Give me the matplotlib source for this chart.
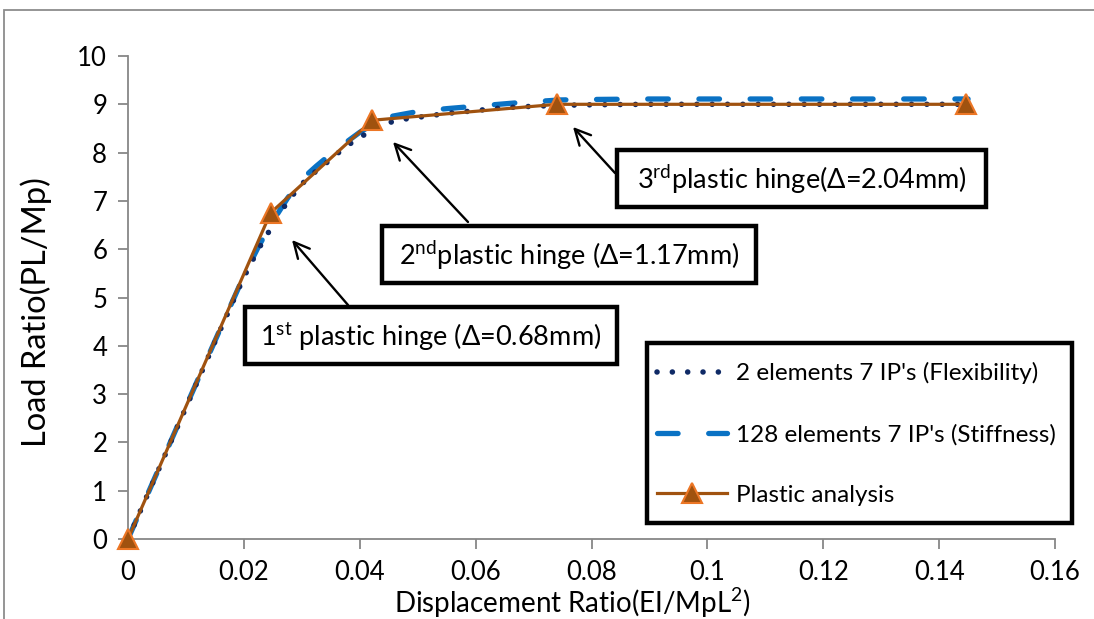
import matplotlib
matplotlib.use("Agg")
import matplotlib.pyplot as plt
from matplotlib.patches import Rectangle

plt.rcParams['font.family'] = ['Lato', 'DejaVu Sans']
plt.rcParams['mathtext.fontset'] = 'custom'
plt.rcParams['mathtext.rm'] = 'Lato'
plt.rcParams['mathtext.it'] = 'Lato'

# ---- data ----
flex_x = [0, 0.005, 0.010, 0.015, 0.020, 0.0225, 0.025, 0.0275, 0.030, 0.0325,
          0.035, 0.0375, 0.040, 0.0425, 0.045, 0.0475, 0.050, 0.055, 0.060,
          0.065, 0.070, 0.075, 0.080, 0.090, 0.100, 0.110, 0.120, 0.130, 0.140, 0.145]
flex_y = [0, 1.36, 2.72, 4.08, 5.42, 6.0, 6.5, 6.98, 7.35, 7.62,
          7.86, 8.12, 8.31, 8.5, 8.62, 8.69, 8.73, 8.81, 8.87,
          8.93, 8.96, 8.98, 8.99, 9.0, 9.0, 9.0, 9.0, 9.0, 9.0, 9.0]

stiff_x = [0, 0.005, 0.010, 0.015, 0.020, 0.0225, 0.025, 0.0275, 0.030, 0.0325,
           0.035, 0.0375, 0.040, 0.0425, 0.045, 0.050, 0.055, 0.060, 0.067,
           0.0745, 0.080, 0.090, 0.100, 0.110, 0.120, 0.130, 0.140, 0.145]
stiff_y = [0, 1.37, 2.74, 4.1, 5.45, 6.05, 6.58, 7.05, 7.45, 7.72,
           7.97, 8.2, 8.42, 8.6, 8.74, 8.85, 8.91, 8.96, 9.03,
           9.09, 9.1, 9.11, 9.11, 9.11, 9.11, 9.11, 9.11, 9.11]

plastic_x = [0, 0.0246, 0.0422, 0.074, 0.1447]
plastic_y = [0, 6.75, 8.67, 9.0, 9.0]

series_labels = ["2 elements 7 IP's (Flexibility)",
                 "128 elements 7 IP's (Stiffness)",
                 "Plastic analysis"]

x_ticks = [0, 0.02, 0.04, 0.06, 0.08, 0.1, 0.12, 0.14, 0.16]
x_ticklabels = ["0", "0.02", "0.04", "0.06", "0.08", "0.1", "0.12", "0.14", "0.16"]
y_ticks = list(range(0, 11))

hinge_labels = ["1$^{\\mathrm{st}}$ plastic hinge (Δ=0.68mm)",
                "2$^{\\mathrm{nd}}$plastic hinge (Δ=1.17mm)",
                "3$^{\\mathrm{rd}}$plastic hinge(Δ=2.04mm)"]

# ---- figure ----
W, H = 1094, 619
fig = plt.figure(figsize=(W / 100, H / 100), dpi=100)
ax = fig.add_axes([128 / W, 1 - 539 / H, (1055 - 128) / W, (539 - 56) / H])

def fp(x, y):
    return (x / W, 1 - y / H)

# outer chart frame
fig.patches.append(Rectangle(fp(4, 700), 1200 / W, (700 - 10) / H,
                             transform=fig.transFigure, fill=False,
                             edgecolor='#8c8c8c', lw=1.3, zorder=0))

grey = '#878787'
l1, = ax.plot(flex_x, flex_y, color='#0f2a66', lw=4.0,
              linestyle=(0, (0.01, 2.75)), dash_capstyle='round', zorder=3)
l2, = ax.plot(stiff_x, stiff_y, color='#0a72c4', lw=3.8,
              linestyle=(0, (3.9, 5.8)), dash_capstyle='round', zorder=2)
l3, = ax.plot(plastic_x, plastic_y, color='#a0520f', lw=2.3, marker='^',
              markersize=14, markerfacecolor='#a0520f', markeredgecolor='#ec7625',
              markeredgewidth=1.5, zorder=4, clip_on=False)

ax.set_xlim(0, 0.16)
ax.set_ylim(0, 10)
ax.set_xticks(x_ticks)
ax.set_xticklabels(x_ticklabels)
ax.set_yticks(y_ticks)
for s in ['top', 'right']:
    ax.spines[s].set_visible(False)
for s in ['left', 'bottom']:
    ax.spines[s].set_color(grey)
    ax.spines[s].set_linewidth(1.3)
ax.tick_params(axis='both', colors=grey, length=7, width=1.3, labelsize=18.5,
               labelcolor='black')
ax.tick_params(axis='x', pad=8)
ax.tick_params(axis='y', pad=8)
ax.set_xlabel("Displacement Ratio(EI/MpL$^{2}$)", fontsize=20)
ax.xaxis.set_label_coords((572 - 128) / 927, (539 - 586) / 483)
ax.set_ylabel("Load Ratio(PL/Mp)", fontsize=23.5)
ax.yaxis.set_label_coords((52 - 128) / 927, (539 - 312) / 483)

# legend (frame drawn separately)
fig.patches.append(Rectangle(fp(647, 523), (1072 - 647) / W, (523 - 343) / H,
                             transform=fig.transFigure, facecolor='white',
                             edgecolor='black', lw=3.2, zorder=5))
leg = fig.legend([l1, l2, l3], series_labels, loc='center left',
                 bbox_to_anchor=fp(657, 434), fontsize=17.5, frameon=False,
                 handlelength=2.9, handletextpad=0.37, labelspacing=1.62,
                 borderpad=0, borderaxespad=0)
leg.set_zorder(6)

# hinge annotation boxes
boxes = [(245, 307, 617, 364), (382, 226, 756, 283), (617, 150, 986, 207)]
arrows = [((348, 305), (292, 240)), ((468, 222), (393, 142)), ((615, 173), (573, 127))]
for (x0, y0, x1, y1), lab, (tail, tip) in zip(boxes, hinge_labels, arrows):
    fig.patches.append(Rectangle(fp(x0, y1), (x1 - x0) / W, (y1 - y0) / H,
                                 transform=fig.transFigure, facecolor='white',
                                 edgecolor='black', lw=3.2, zorder=5))
    fig.text(*fp((x0 + x1) / 2, (y0 + y1) / 2 + 1), lab, ha='center', va='center',
             fontsize=19.5, zorder=6)
    ax.annotate('', xy=fp(*tip), xycoords='figure fraction',
                xytext=fp(*tail), textcoords='figure fraction',
                arrowprops=dict(arrowstyle='->', color='black', lw=1.7,
                                mutation_scale=28, shrinkA=0, shrinkB=0))

fig.savefig('out.png', dpi=100)
